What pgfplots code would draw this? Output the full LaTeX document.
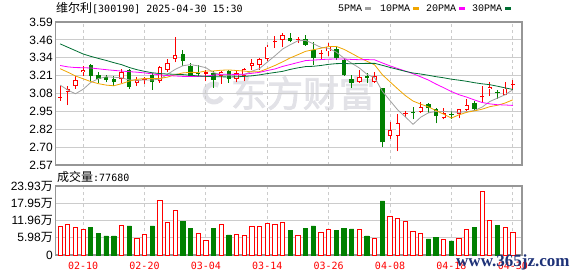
\documentclass[border=0pt]{standalone}
\usepackage{pgfplots}
\pgfplotsset{compat=1.18}
\usepackage{pgfplotstable}
\usepackage{fontspec}
\setmainfont{Liberation Sans}
\newfontfamily\cjk{Noto Sans CJK SC}
\newfontfamily\cjkheavy[FakeBold=2.5]{Noto Sans CJK SC}
\newfontfamily\mono{DejaVu Sans Mono}
\newfontfamily\cmono{Liberation Mono}
\newfontfamily\serifb{Liberation Serif}

\definecolor{upred}{RGB}{255,0,0}
\definecolor{dngreen}{RGB}{0,128,0}
\definecolor{maA}{RGB}{160,160,160}
\definecolor{maB}{RGB}{240,165,0}
\definecolor{maC}{RGB}{255,0,255}
\definecolor{maD}{RGB}{0,110,50}
\definecolor{gridc}{RGB}{204,204,204}
\definecolor{framec}{RGB}{150,150,150}
\definecolor{wm}{RGB}{226,226,231}
\definecolor{wmblue}{RGB}{30,50,120}

\pgfplotsset{
  wick/.style={draw=none, mark=none, forget plot,
    error bars/.cd, y dir=plus, y explicit, error mark=none,
    error bar style={solid, line width=0.9pt, draw=#1}},
  body/.style={draw=none, mark=none, forget plot,
    error bars/.cd, y dir=plus, y explicit, error mark=none,
    error bar style={solid, line width=4.4pt, draw=#1}},
  hole/.style={draw=none, mark=none, forget plot,
    error bars/.cd, y dir=plus, y explicit, error mark=none,
    error bar style={solid, line width=2.6pt, draw=white, shorten <=0.9pt, shorten >=0.9pt}},
}

% candles: i, low, body bottom, body top, high
\pgfplotstableread{
i L lo hi H
1 2.997 3.094 3.113 3.137
2 3.115 3.134 3.177 3.203
3 3.203 3.233 3.250 3.278
8 3.156 3.184 3.231 3.255
10 3.132 3.156 3.179 3.198
13 3.156 3.167 3.267 3.278
14 3.231 3.250 3.297 3.326
15 3.302 3.326 3.356 3.481
21 3.151 3.207 3.233 3.238
23 3.160 3.184 3.226 3.245
24 3.167 3.203 3.255 3.262
25 3.250 3.274 3.297 3.326
26 3.250 3.285 3.326 3.333
27 3.309 3.326 3.415 3.427
29 3.411 3.462 3.498 3.510
35 3.344 3.380 3.415 3.439
39 3.156 3.163 3.198 3.250
41 3.156 3.165 3.207 3.231
43 2.759 2.778 2.818 2.877
44 2.667 2.778 2.872 2.931
47 2.943 2.950 2.986 3.021
50 2.896 2.903 2.938 2.974
52 2.903 2.931 2.967 2.971
53 2.955 2.962 2.995 3.038
56 3.061 3.113 3.127 3.163
58 3.066 3.068 3.115 3.163
}\uphol

\pgfplotstableread{
i L lo hi H
0 3.028 3.051 3.057 3.132
11 3.151 3.177 3.183 3.198
19 3.167 3.219 3.231 3.250
28 3.403 3.447 3.453 3.491
31 3.439 3.464 3.470 3.481
34 3.326 3.365 3.371 3.387
45 2.915 2.932 2.938 2.955
55 3.014 3.053 3.059 3.137
59 3.108 3.144 3.150 3.179
}\upflat

\pgfplotstableread{
i L lo hi H
4 3.172 3.203 3.285 3.287
5 3.156 3.186 3.215 3.231
6 3.160 3.179 3.198 3.215
7 3.132 3.160 3.182 3.203
9 3.115 3.127 3.250 3.255
12 3.108 3.160 3.210 3.226
16 3.274 3.309 3.359 3.392
17 3.198 3.203 3.278 3.297
18 3.198 3.221 3.227 3.285
20 3.120 3.179 3.226 3.238
22 3.156 3.184 3.238 3.250
30 3.446 3.451 3.479 3.510
32 3.420 3.427 3.467 3.498
33 3.285 3.333 3.392 3.444
36 3.321 3.333 3.396 3.415
37 3.208 3.210 3.321 3.326
38 3.120 3.156 3.184 3.215
40 3.156 3.189 3.207 3.226
42 2.700 2.731 3.120 3.122
46 2.896 2.941 2.947 2.986
48 2.943 2.974 3.007 3.014
49 2.867 2.919 2.971 2.978
51 2.901 2.930 2.936 2.955
54 2.962 2.967 3.014 3.030
57 3.042 3.086 3.092 3.108
}\dn

\pgfplotstableread{
i v
0 3.140
1 3.105
2 3.078
3 3.110
4 3.159
5 3.186
6 3.199
7 3.196
8 3.192
9 3.177
10 3.175
11 3.176
12 3.176
13 3.183
14 3.217
15 3.252
16 3.278
17 3.286
18 3.277
19 3.264
20 3.229
21 3.214
22 3.210
23 3.211
24 3.215
25 3.239
26 3.258
27 3.304
28 3.349
29 3.397
30 3.428
31 3.456
32 3.459
33 3.435
34 3.409
35 3.402
36 3.375
37 3.332
38 3.296
39 3.262
40 3.217
41 3.192
42 3.096
43 3.029
44 2.963
45 2.913
46 2.860
47 2.911
48 2.942
49 2.952
50 2.952
51 2.949
52 2.946
53 2.950
54 2.959
55 2.983
56 3.023
57 3.047
58 3.071
59 3.107
}\maA

\pgfplotstableread{
i v
0 3.257
1 3.232
2 3.205
3 3.185
4 3.165
5 3.150
6 3.140
7 3.135
8 3.150
9 3.168
10 3.181
11 3.187
12 3.186
13 3.187
14 3.197
15 3.214
16 3.227
17 3.231
18 3.230
19 3.241
20 3.241
21 3.246
22 3.248
23 3.244
24 3.240
25 3.234
26 3.236
27 3.257
28 3.280
29 3.306
30 3.334
31 3.357
32 3.381
33 3.392
34 3.403
35 3.415
36 3.416
37 3.395
38 3.366
39 3.336
40 3.310
41 3.284
42 3.214
43 3.163
44 3.113
45 3.065
46 3.026
47 3.004
48 2.985
49 2.958
50 2.932
51 2.905
52 2.928
53 2.946
54 2.956
55 2.968
56 2.986
57 2.996
58 3.012
59 3.035
}\maB

\pgfplotstableread{
i v
0 3.280
1 3.270
2 3.265
3 3.264
4 3.262
5 3.256
6 3.250
7 3.245
8 3.240
9 3.236
10 3.232
11 3.227
12 3.220
13 3.213
14 3.208
15 3.205
16 3.202
17 3.201
18 3.202
19 3.204
20 3.211
21 3.217
22 3.217
23 3.216
24 3.218
25 3.224
26 3.231
27 3.244
28 3.255
29 3.273
30 3.287
31 3.301
32 3.315
33 3.318
34 3.322
35 3.325
36 3.326
37 3.326
38 3.323
39 3.321
40 3.322
41 3.320
42 3.298
43 3.277
44 3.258
45 3.240
46 3.221
47 3.199
48 3.176
49 3.147
50 3.121
51 3.094
52 3.071
53 3.054
54 3.034
55 3.016
56 3.006
57 3.000
58 2.998
59 2.995
}\maC

\pgfplotstableread{
i v
0 3.434
1 3.410
2 3.386
3 3.362
4 3.345
5 3.330
6 3.316
7 3.300
8 3.286
9 3.266
10 3.250
11 3.238
12 3.228
13 3.222
14 3.219
15 3.217
16 3.215
17 3.210
18 3.205
19 3.202
20 3.200
21 3.199
22 3.198
23 3.199
24 3.202
25 3.206
26 3.213
27 3.222
28 3.230
29 3.238
30 3.252
31 3.263
32 3.272
33 3.274
34 3.280
35 3.288
36 3.293
37 3.294
38 3.292
39 3.294
40 3.295
41 3.295
42 3.281
43 3.266
44 3.252
45 3.238
46 3.226
47 3.219
48 3.210
49 3.200
50 3.192
51 3.182
52 3.175
53 3.167
54 3.157
55 3.149
56 3.143
57 3.132
58 3.120
59 3.109
}\maD

\pgfplotstableread{
i v
0 10.06
1 10.75
2 9.71
3 9.02
8 10.40
10 5.90
11 7.28
13 19.07
14 11.44
15 15.49
18 7.63
19 5.20
21 10.75
23 7.28
24 6.94
25 10.06
26 10.06
27 11.10
28 10.75
29 11.44
31 6.94
34 7.98
35 9.02
39 9.02
41 5.90
43 13.53
44 12.83
45 11.79
46 8.32
47 7.63
50 5.55
52 5.90
53 9.02
55 22.20
56 12.14
58 9.71
59 7.768
}\volup

\pgfplotstableread{
i v
4 9.71
5 7.40
6 6.59
7 6.59
9 10.06
12 10.06
16 11.79
17 9.36
20 9.36
22 6.94
30 8.67
32 9.36
33 10.06
36 8.67
37 9.36
38 9.02
40 6.59
42 18.73
48 5.55
49 6.24
51 4.86
54 9.71
57 10.40
}\voldn

\begin{document}
\begin{tikzpicture}
\useasboundingbox (0,0) rectangle (578pt,276pt);
% watermark (logo ring and name)
\draw[wm, line width=5pt] (214pt,183pt) ++(60:9pt) arc[start angle=60, end angle=330, radius=9pt];
\node[text=wm, font=\cjkheavy\fontsize{36}{36}\selectfont, anchor=center, inner sep=0pt] at (303pt,183pt) {东方财富};

\begin{axis}[
  at={(55.5pt,111pt)}, anchor=south west, scale only axis,
  width=466.5pt, height=143pt,
  xmin=-0.6, xmax=60.2, ymin=2.57, ymax=3.59,
  xtick={3,11,19,27,35,43,51,59}, xticklabels={},
  ytick={2.57,2.6975,2.825,2.9525,3.08,3.2075,3.335,3.4625,3.59},
  yticklabels={2.57,2.70,2.82,2.95,3.08,3.21,3.34,3.46,3.59},
  /pgf/number format/assume math mode=true,
  xmajorgrids, ymajorgrids,
  x grid style={gridc, dash pattern=on 3pt off 3pt, line width=0.8pt},
  y grid style={gridc, line width=0.8pt},
  major tick length=0pt,
  axis line style={framec, line width=1.2pt},
  tick label style={font=\fontsize{12}{14}\selectfont},
  yticklabel style={inner sep=0pt, xshift=-2.5pt},
]
% wicks
\addplot[wick=upred] table[x=i, y=L, y error plus expr=\thisrow{H}-\thisrow{L}] {\uphol};
\addplot[wick=upred] table[x=i, y=L, y error plus expr=\thisrow{H}-\thisrow{L}] {\upflat};
\addplot[wick=dngreen] table[x=i, y=L, y error plus expr=\thisrow{H}-\thisrow{L}] {\dn};
% bodies
\addplot[body=dngreen] table[x=i, y=lo, y error plus expr=\thisrow{hi}-\thisrow{lo}] {\dn};
\addplot[body=upred] table[x=i, y=lo, y error plus expr=\thisrow{hi}-\thisrow{lo}] {\upflat};
\addplot[body=upred] table[x=i, y=lo, y error plus expr=\thisrow{hi}-\thisrow{lo}] {\uphol};
\addplot[hole] table[x=i, y=lo, y error plus expr=\thisrow{hi}-\thisrow{lo}] {\uphol};
% moving averages
\addplot[maA, line width=0.8pt, mark=none] table[x=i, y=v] {\maA};
\addplot[maB, line width=0.8pt, mark=none] table[x=i, y=v] {\maB};
\addplot[maC, line width=0.8pt, mark=none] table[x=i, y=v] {\maC};
\addplot[maD, line width=0.8pt, mark=none] table[x=i, y=v] {\maD};
\end{axis}

\begin{axis}[
  at={(55.5pt,21pt)}, anchor=south west, scale only axis,
  width=466.5pt, height=69pt,
  xmin=-0.6, xmax=60.2, ymin=0, ymax=23.93,
  xtick={3,11,19,27,35,43,51,59},
  xticklabels={02-10,02-20,03-04,03-14,03-26,04-08,04-18,04-30},
  ytick={0,5.9825,11.965,17.9475,23.93},
  yticklabels={0,{5.98{\cjk 万}},{11.96{\cjk 万}},{17.95{\cjk 万}},{23.93{\cjk 万}}},
  /pgf/number format/assume math mode=true,
  xmajorgrids, ymajorgrids,
  x grid style={gridc, dash pattern=on 3pt off 3pt, line width=0.8pt},
  y grid style={gridc, line width=0.8pt},
  major tick length=0pt,
  axis line style={framec, line width=1.2pt},
  yticklabel style={font=\fontsize{12}{14}\selectfont, inner sep=0pt, xshift=-2.5pt},
  xticklabel style={font=\mono\fontsize{10}{12}\selectfont, text=upred, inner sep=0pt, anchor=north, yshift=-7pt},
]
\addplot[ybar, bar width=4.3pt, bar shift=0pt, draw=upred, fill=white, line width=0.9pt] table[x=i, y=v] {\volup};
\addplot[ybar, bar width=4.3pt, bar shift=0pt, draw=dngreen, fill=dngreen, line width=0.9pt] table[x=i, y=v] {\voldn};
\end{axis}

% title and legend
\node[anchor=west, inner sep=0pt] at (56pt,267.5pt) {{\cjk\fontsize{12}{12}\selectfont 维尔利}{\mono\fontsize{10}{12}\selectfont [300190] 2025-04-30 15:30}};
\node[anchor=west, inner sep=0pt, font=\cmono\fontsize{10}{12}\selectfont] at (338pt,267.5pt) {5PMA};
\fill[maA] (365pt,265.8pt) rectangle (370.5pt,268.8pt);
\node[anchor=west, inner sep=0pt, font=\cmono\fontsize{10}{12}\selectfont] at (380pt,267.5pt) {10PMA};
\fill[maB] (413pt,265.8pt) rectangle (418.5pt,268.8pt);
\node[anchor=west, inner sep=0pt, font=\cmono\fontsize{10}{12}\selectfont] at (426pt,267.5pt) {20PMA};
\fill[maC] (459pt,265.8pt) rectangle (464.5pt,268.8pt);
\node[anchor=west, inner sep=0pt, font=\cmono\fontsize{10}{12}\selectfont] at (472pt,267.5pt) {30PMA};
\fill[maD] (505pt,265.8pt) rectangle (510.5pt,268.8pt);
\node[anchor=west, inner sep=0pt] at (57pt,99pt) {{\cjk\fontsize{12}{12}\selectfont 成交量}{\mono\fontsize{10}{12}\selectfont :77680}};
\node[anchor=west, inner sep=0pt, text=wmblue, font=\serifb\bfseries\fontsize{17}{17}\selectfont] at (456pt,14pt) {www.365jz.com};
\end{tikzpicture}
\end{document}
